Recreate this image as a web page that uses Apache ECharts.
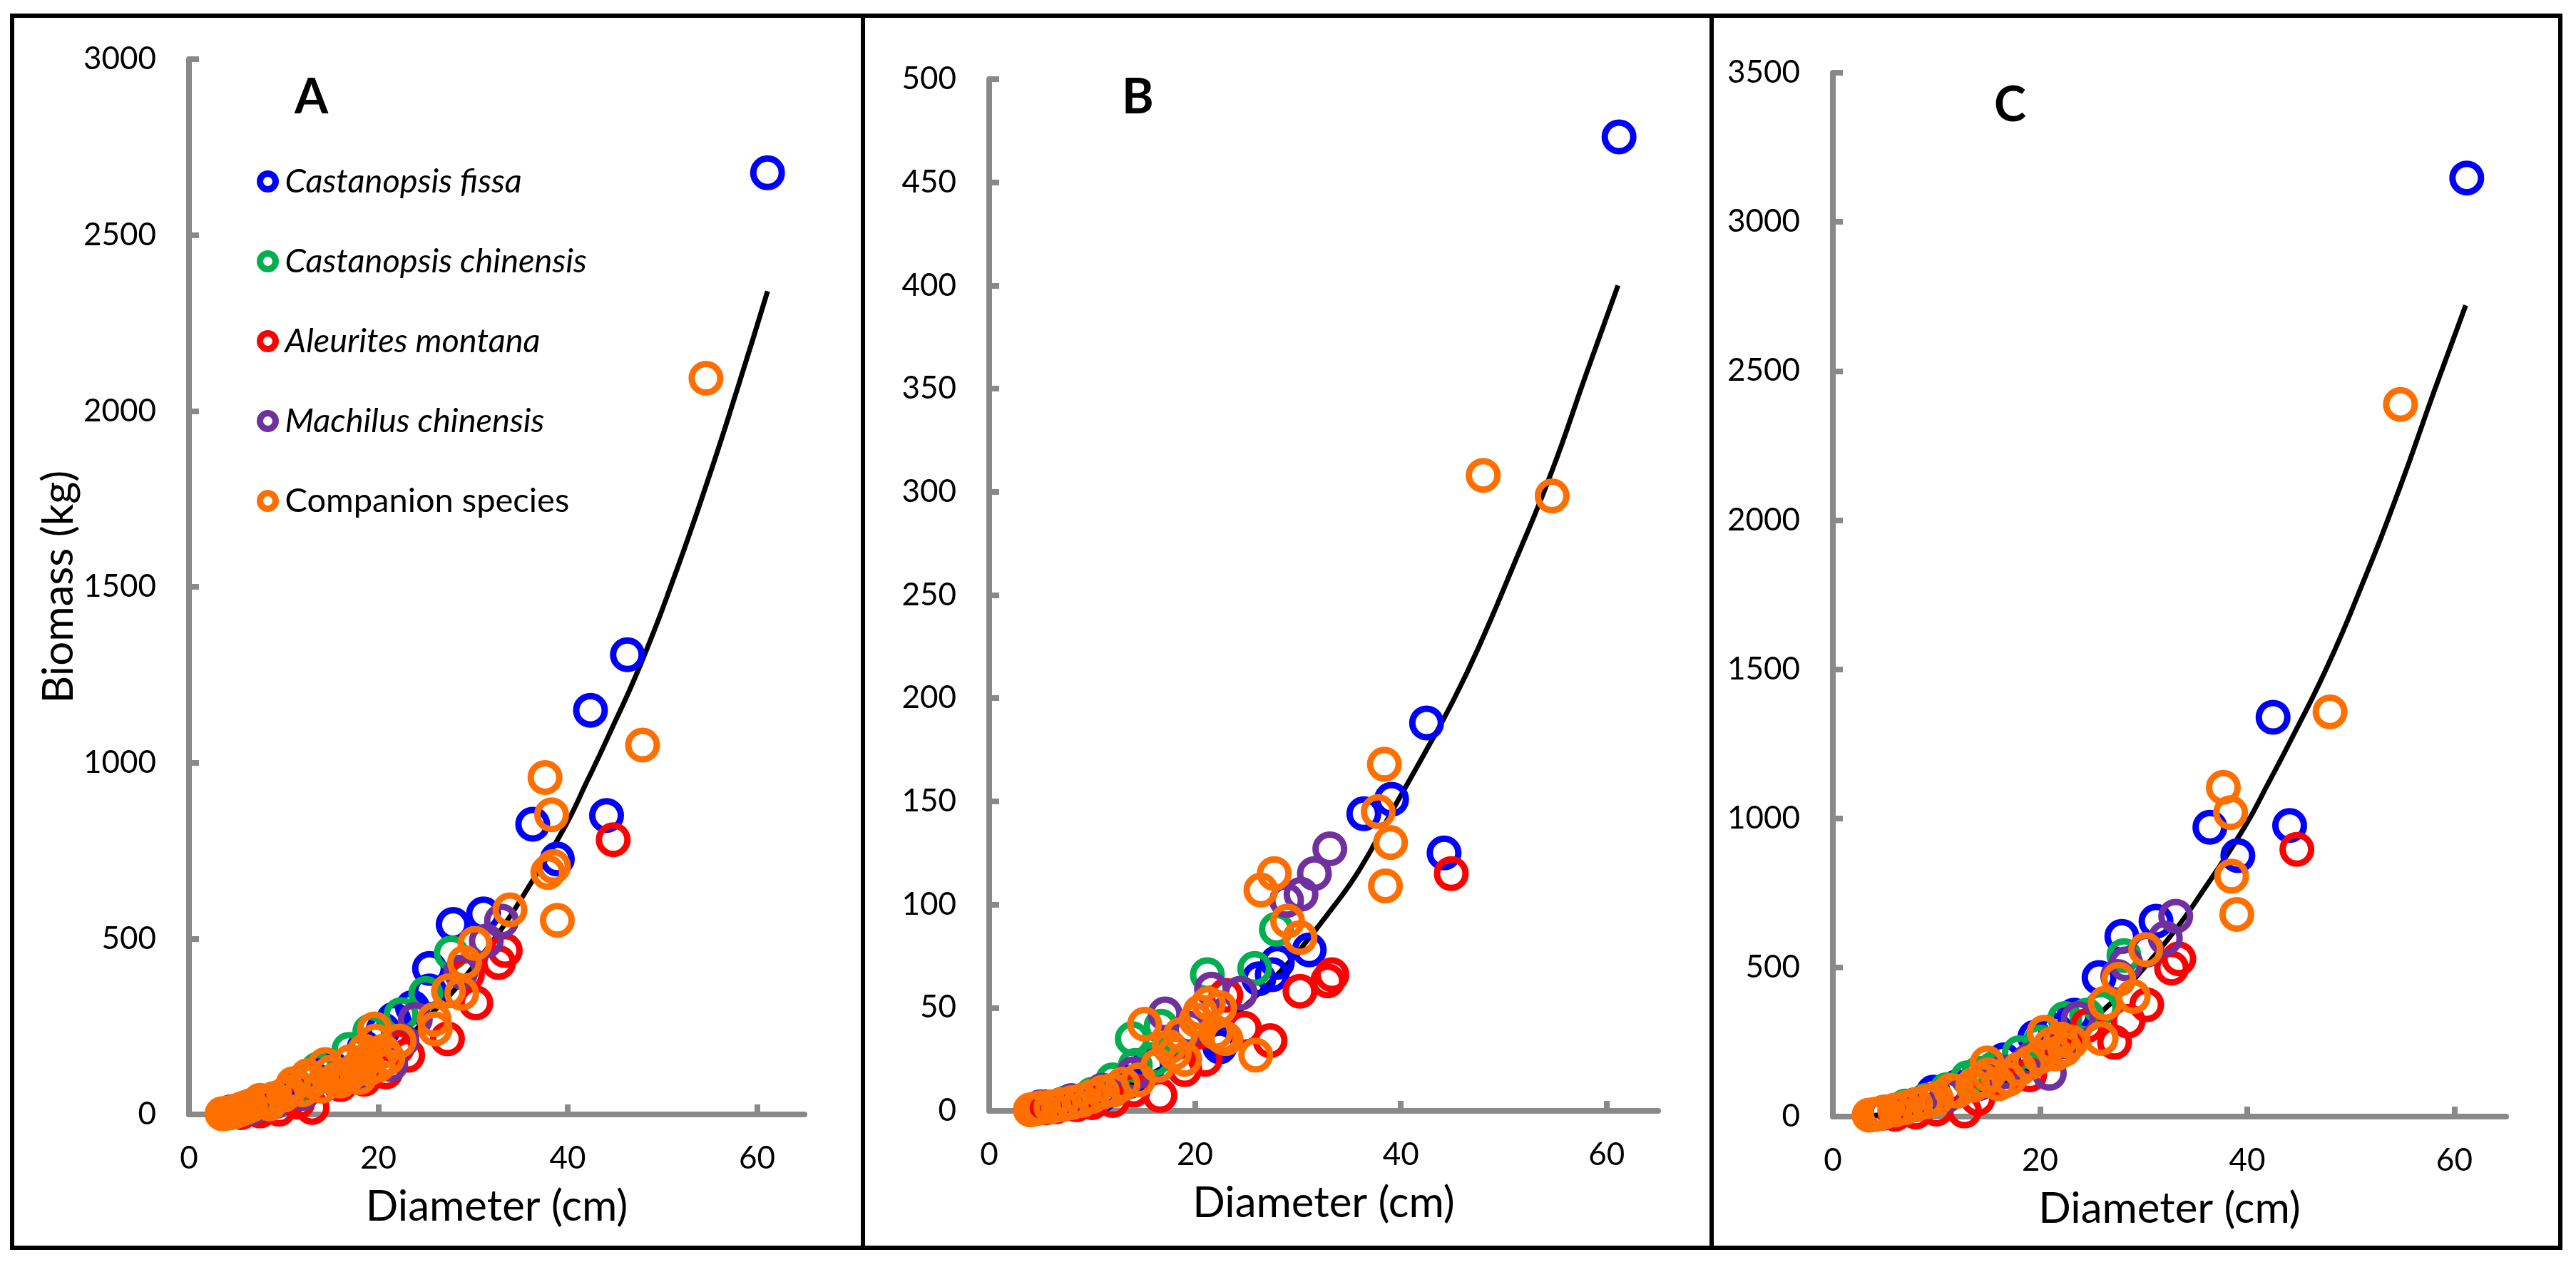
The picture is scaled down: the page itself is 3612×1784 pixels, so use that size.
<!DOCTYPE html>
<html>
<head>
<meta charset="utf-8">
<script src="https://cdn.jsdelivr.net/npm/echarts@6/dist/echarts.min.js"></script>
<style>
html,body{margin:0;padding:0;background:#fff;}
#chart{width:3612px;height:1784px;}
</style>
</head>
<body>
<div id="chart"></div>
<script>

/* ---------- species / legend ---------- */

const speciesNames=[
"Castanopsis fissa",
"Castanopsis chinensis",
"Aleurites montana",
"Machilus chinensis",
"Companion species"
];

const speciesColors=["#0000FF","#00B050","#FF0000","#7030A0","#FF6F00"];

const xTicks=[0,20,40,60];


/* ---------- panel A : [diameter, biomass] ---------- */

const blueA=[[61.1,2677],[46.3,1307],[42.4,1149],[44.1,850],[36.3,825],[38.9,726],[27.9,540],[31.1,570],[25.4,415],[25.4,351],[23.6,304],[21.6,270],[20.5,240],[18.5,190],[15.0,134],[13.2,100],[11.5,75],[9.5,45],[7.5,28],[6.0,15],[5.0,8]];

const greenA=[[27.7,459],[25.0,344],[22.4,284],[19.1,236],[16.9,185],[13.6,128],[12.5,95],[11.0,70],[9.0,45],[7.0,25],[5.5,12],[4.5,6]];

const redA=[[44.8,781],[33.4,466],[32.7,432],[30.3,317],[29.4,398],[27.3,215],[23.1,168],[20.8,121],[22.0,190],[18.5,100],[16.0,85],[13.0,20],[11.5,35],[9.5,15],[7.5,10],[5.5,5]];

const purpleA=[[33.0,550],[31.4,493],[28.7,405],[23.9,270],[21.3,142],[22.5,210],[18.0,120],[15.5,100],[12.0,60],[9.0,35],[6.5,18],[4.5,8]];

const orangeA=[[54.6,2093],[47.9,1050],[37.6,958],[38.3,852],[37.9,688],[38.5,705],[38.9,552],[33.9,582],[30.2,486],[29.1,432],[28.8,344],[27.4,351],[26.0,243],[25.9,270],[22.2,209],[19.6,243],[19.7,209],[20.5,180],[17.6,128],[14.4,142],[16.5,110],[18.5,150],[13.0,95],[11.0,87],[12.0,70],[10.0,55],[9.0,45],[8.0,35],[7.5,40],[6.5,25],[6.0,20],[5.5,15],[5.0,10],[4.6,6],[4.2,4],[3.8,3],[3.5,2],[14.0,80],[15.5,100],[16.0,95],[17.0,115],[18.0,105],[19.0,130],[20.0,140],[21.0,160],[15.0,120],[17.0,150],[12.5,110],[10.5,65],[8.5,30],[18.5,180]];

const curveA=[[4,3],[6,8],[8,17],[10,29],[12,45],[14,65],[16,90],[18,120],[20,155],[22,196],[24,242],[26,297],[28,353],[30,420],[33,527],[35.6,635],[39.7,818],[42,945],[44.2,1070],[47.7,1280],[51,1510],[54.7,1795],[58,2070],[61.1,2340]];


/* ---------- panel B ---------- */

const blueB=[[61.2,472],[42.5,188],[39.1,151],[36.4,144],[44.2,125],[31.1,78],[28.0,72],[27.5,66],[26.2,64],[22.6,34],[22.4,31],[15.5,22],[13.5,14],[11.0,8],[9.0,5],[7.0,3],[5.5,2]];

const greenB=[[27.9,88],[25.8,69],[21.2,66],[13.9,35],[16.7,41],[14.2,22],[18.5,35],[16.0,25],[12.0,15],[10.0,8],[7.5,4],[5.0,2]];

const redB=[[44.9,115],[33.3,66],[32.9,63],[30.2,58],[27.3,34],[24.8,40],[23.0,56],[16.6,7.5],[21.0,25],[19.0,20],[14.0,10],[12.0,5],[10.0,4],[8.5,3],[6.5,2],[5.5,1.5]];

const purpleB=[[33.1,127],[31.6,115],[30.3,105],[28.9,102],[24.4,57],[21.6,59],[17.1,47],[19.5,40],[14.0,18],[11.0,10],[8.0,5],[5.0,2]];

const orangeB=[[54.7,298],[48.0,308],[38.4,168],[37.8,145],[39.0,130],[38.5,109],[27.7,115],[26.4,107],[29.0,92],[30.2,84],[25.9,27],[15.1,42],[21.3,52],[22.4,50],[22.6,36],[18.6,37],[20.1,44],[17.5,31],[16.4,22],[23.0,35],[19.0,25],[14.5,15],[13.0,13],[12.0,10],[11.0,9],[10.0,7],[9.0,5],[8.0,4],[7.0,3],[6.0,2],[5.0,1.5],[4.5,1],[4.0,0.5],[18.0,28],[20.5,48],[22.0,38]];

const curveB=[[4,0.8],[6,2],[8,3.8],[10,6.3],[12,9.6],[14,13.7],[16,18.6],[18,24.3],[20,31],[22,38],[24,47],[26,56],[28,66],[30,77],[33,96],[36,117],[39,144],[42.5,175],[45,198],[47.5,224],[51,265],[54.6,309],[58,357],[61.1,400]];


/* ---------- panel C ---------- */

const blueC=[[61.2,3147],[42.5,1339],[36.4,970],[44.1,976],[39.1,875],[31.2,655],[27.9,604],[25.7,466],[23.3,340],[19.5,266],[21.5,290],[16.5,190],[14.1,111],[12.0,100],[9.7,82],[8.0,40],[6.0,20],[5.0,12]];

const greenC=[[28.1,540],[25.9,363],[24.5,340],[22.4,329],[20.0,250],[18.0,214],[14.1,145],[15.5,160],[13.0,130],[11.0,90],[9.0,55],[7.0,35],[5.0,15]];

const redC=[[44.8,896],[33.4,529],[32.7,498],[30.3,375],[27.2,249],[28.5,320],[24.6,306],[22.8,254],[22.0,220],[19.0,140],[16.5,120],[14.0,60],[12.7,19],[10.0,25],[8.0,15],[6.0,8]];

const purpleC=[[33.1,672],[32.1,598],[30.3,558],[28.3,512],[27.5,470],[23.7,329],[22.0,250],[20.9,145],[19.0,190],[16.5,150],[14.0,110],[11.0,70],[8.0,40],[5.0,15]];

const orangeC=[[54.8,2388],[48.0,1357],[37.7,1104],[38.4,1019],[38.5,806],[39.0,678],[30.2,560],[27.6,460],[29.0,403],[26.3,380],[25.9,262],[20.4,283],[22.4,226],[22.0,260],[21.5,210],[23.0,250],[19.0,180],[18.0,160],[14.9,180],[15.0,140],[14.5,120],[13.5,105],[17.0,125],[16.0,110],[12.0,85],[11.4,88],[10.0,60],[9.0,50],[8.0,40],[7.0,30],[6.0,22],[5.0,15],[4.5,10],[4.0,7],[3.5,5],[20.0,200],[21.0,240]];

const curveC=[[4,4],[6,10],[8,21],[10,35],[12,55],[14,79],[16,109],[18,144],[20,186],[22,234],[24,289],[26,353],[28,419],[30,497],[33,623],[35.6,750],[39.7,968],[42,1115],[44.2,1261],[47.7,1506],[51,1775],[54.7,2105],[58,2427],[61.1,2720]];


const panelPoints=[
[blueA,greenA,redA,purpleA,orangeA],
[blueB,greenB,redB,purpleB,orangeB],
[blueC,greenC,redC,purpleC,orangeC]
];

const panelCurves=[curveA,curveB,curveC];

const yMax=[3000,500,3500];
const yStep=[500,50,500];


/* ---------- layout ---------- */

const font="Lato";

const grids=[
{left:265,top:83,width:863,bottom:221},
{left:1387,top:111,width:938,bottom:226},
{left:2570,top:102,width:944,bottom:218}
];


let xAxes=[],yAxes=[],series=[];

grids.forEach((g,i)=>{

xAxes.push({
gridIndex:i,
type:"value",
min:0,max:65,interval:20,
name:"Diameter (cm)",
nameLocation:"middle",
nameGap:100,
nameTextStyle:{fontFamily:font,fontSize:60,color:"#000"},
axisLine:{lineStyle:{color:"#898989",width:8}},
axisTick:{inside:true,length:14,lineStyle:{color:"#898989",width:8},customValues:xTicks},
axisLabel:{fontFamily:font,fontSize:44,color:"#000",margin:40,customValues:xTicks,formatter:v=>String(v)},
splitLine:{show:false}
});

yAxes.push({
gridIndex:i,
type:"value",
min:0,max:yMax[i],interval:yStep[i],
name:i==0?"Biomass (kg)":"",
nameLocation:"middle",
nameGap:150,
nameTextStyle:{fontFamily:font,fontSize:60,color:"#000"},
axisLine:{show:true,lineStyle:{color:"#898989",width:8}},
axisTick:{show:true,inside:true,length:14,lineStyle:{color:"#898989",width:8}},
axisLabel:{fontFamily:font,fontSize:44,color:"#000",margin:46,formatter:v=>String(v)},
splitLine:{show:false}
});

series.push({
name:"fit"+i,
type:"line",
xAxisIndex:i,yAxisIndex:i,
data:panelCurves[i],
smooth:true,
showSymbol:false,
lineStyle:{color:"#000",width:7},
z:1
});

panelPoints[i].forEach((pts,k)=>{

series.push({
name:speciesNames[k],
type:"scatter",
xAxisIndex:i,yAxisIndex:i,
data:pts,
symbol:"circle",
symbolSize:40,
itemStyle:{color:"transparent",borderColor:speciesColors[k],borderWidth:9,opacity:1},
z:2+k
});

});

});


const chart=echarts.init(document.getElementById("chart"),null,{renderer:"canvas"});

chart.setOption({

animation:false,
backgroundColor:"#fff",

grid:grids,
xAxis:xAxes,
yAxis:yAxes,

title:[
{text:"A",left:408,top:98,textStyle:{fontFamily:font,fontSize:68,fontWeight:"bold",color:"#000"}},
{text:"B",left:1568,top:98,textStyle:{fontFamily:font,fontSize:68,fontWeight:"bold",color:"#000"}},
{text:"C",left:2791,top:109,textStyle:{fontFamily:font,fontSize:68,fontWeight:"bold",color:"#000"}}
],

legend:{
data:speciesNames,
orient:"vertical",
left:355,
top:226,
itemWidth:22,
itemHeight:22,
itemGap:65,
selectedMode:false,
itemStyle:{color:"transparent",borderWidth:9},
formatter:n=>n=="Companion species"?"{n|"+n+"}":"{i|"+n+"}",
textStyle:{
fontFamily:font,fontSize:47,color:"#000",
rich:{
i:{fontFamily:font,fontSize:47,fontStyle:"italic",color:"#000",padding:[0,0,0,8]},
n:{fontFamily:font,fontSize:47,color:"#000",padding:[0,0,0,8]}
}
}
},

graphic:[
{type:"rect",shape:{x:17,y:22,width:1193,height:1728},style:{fill:null,stroke:"#000",lineWidth:6},silent:true},
{type:"rect",shape:{x:1210,y:22,width:1190,height:1728},style:{fill:null,stroke:"#000",lineWidth:6},silent:true},
{type:"rect",shape:{x:2400,y:22,width:1190,height:1728},style:{fill:null,stroke:"#000",lineWidth:6},silent:true}
],

series:series

});

</script>
</body>
</html>
